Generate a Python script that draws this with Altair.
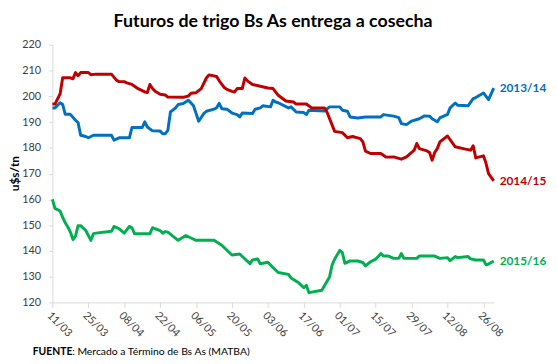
import altair as alt
import pandas as pd

# ---- data (day offsets from 11/03, value in u$s/tn) ----
START = "2015-03-11"

days_1314 = [0, 1, 3, 4, 5, 7, 9, 10, 11, 13, 14, 16, 23, 24, 26, 30, 31, 35, 36, 37, 39, 42, 43, 44, 45, 46, 48, 49, 51, 53,
             55, 57, 59, 60, 63, 64, 65, 66, 68, 70, 72, 73, 74, 78, 79, 81, 82, 85, 86, 87, 88, 92, 93, 95, 98, 99, 100, 106,
             108, 112, 113, 115, 116, 119, 122, 128, 129, 133, 135, 136, 138, 140, 143, 145, 147, 148, 150, 151, 154, 155,
             157, 158, 162, 164, 165, 168, 170, 172]
vals_1314 = [195.5, 195.5, 197.5, 196.8, 193.0, 193.0, 190.7, 189.8, 184.9, 184.4, 183.9, 184.9, 184.9, 183.0, 183.9, 183.9,
             187.9, 187.9, 190.1, 188.1, 186.6, 186.5, 185.5, 185.5, 186.8, 193.9, 195.5, 196.8, 197.2, 198.5,
             196.3, 190.3, 193.3, 194.2, 195.0, 195.6, 197.3, 195.2, 195.0, 193.5, 192.9, 192.0, 193.5, 193.3, 195.0, 195.5,
             196.3, 195.9, 198.5, 197.8, 197.5, 195.5, 195.9, 193.9, 193.7, 192.9, 194.6, 194.3,
             195.9, 195.9, 194.6, 194.2, 192.0, 191.6, 192.0, 192.0, 192.9, 192.3, 191.7, 189.4, 189.0, 190.4, 191.3, 192.4,
             192.3, 191.3, 190.1, 191.6, 193.0, 195.5,
             197.4, 196.5, 196.3, 199.1, 199.5, 201.3, 198.7, 203.2]

days_1415 = [0, 1, 3, 4, 7, 8, 9, 10, 11, 14, 15, 17, 23, 25, 26, 28, 29, 31, 33, 36, 37, 38, 39, 40, 42, 44, 45, 51, 53, 54,
             56, 58, 60, 61, 64, 65, 67, 68, 70, 71, 72, 74, 75, 76, 78, 81, 84, 86, 88, 91, 94, 95, 99, 101, 106, 107, 110,
             113, 115, 117, 120, 121, 122, 124, 128, 129, 130, 133, 135, 136, 138, 140, 141, 142, 143, 146, 147, 148, 149,
             150, 151, 154, 157, 161, 163, 164, 165, 168, 169, 170, 172]
vals_1415 = [197.0, 197.0, 201.0, 207.2, 207.2, 206.8, 209.2, 208.0, 209.2, 209.2, 208.4, 208.6, 208.6, 206.2, 205.7, 205.7,
             205.2, 204.6, 203.2, 201.7, 201.5, 204.6, 203.0, 202.0, 200.8, 200.5, 199.7, 199.6, 200.1, 201.2,
             201.4, 203.0, 207.1, 208.3, 207.7, 206.0, 203.4, 202.7, 201.9, 201.7, 203.0, 203.0, 207.1, 206.0, 204.6, 203.9,
             203.2, 203.0, 200.4, 198.2, 197.8, 197.0, 197.0, 195.5, 195.5, 193.9, 186.4,
             185.9, 183.9, 184.4, 183.6, 182.3, 178.7, 177.8, 177.8, 177.1, 176.4, 176.5, 175.9, 175.6, 176.5, 178.2, 179.1,
             181.7, 179.7, 178.8, 178.2, 175.2, 178.2,
             179.7, 182.3, 184.6, 180.4, 179.5, 179.1, 180.8, 176.1, 176.9, 174.0, 170.0, 167.2]

days_1516 = [0, 1, 3, 4, 5, 6, 7, 8, 9, 10, 11, 13, 14, 15, 16, 17, 23, 24, 26, 28, 30, 31, 32, 38, 39, 40, 42, 43, 44, 45,
             49, 52, 54, 56, 63, 66, 70, 73, 77, 78, 80, 81, 84, 86, 88, 92, 93, 96, 98, 99, 100, 105, 108, 109, 110, 112,
             113, 114, 116, 119, 121, 122, 124, 126, 127, 128, 129, 131, 133, 135, 136, 137, 142, 143, 149, 151, 154, 155,
             157, 158, 162, 163, 165, 168, 169, 170, 172]
vals_1516 = [160.0, 156.5, 155.5, 153.0, 150.9, 149.3, 147.3, 144.4, 145.7, 149.8, 149.8, 147.9, 146.0, 144.1, 146.7, 146.9,
             147.6, 149.5, 148.6, 146.9, 149.5, 149.0, 146.7, 146.7, 149.0, 148.6, 147.9, 146.9, 147.5, 147.3,
             144.1, 146.0, 145.0, 144.1, 144.1, 142.2, 138.4, 138.8, 135.0, 136.5, 136.9, 135.0, 135.6, 133.5, 131.6, 130.9,
             129.5, 127.6, 125.7, 126.6, 123.8, 124.7, 129.9, 134.5, 136.8, 140.2,
             139.3, 135.2, 136.1, 136.1, 135.5, 134.2, 135.8, 136.8, 137.8, 139.0, 138.0, 138.0, 137.1, 137.1, 139.0, 137.1,
             137.1, 138.0, 138.0, 137.1, 137.4, 136.2,
             137.8, 137.4, 137.8, 136.9, 136.5, 136.5, 134.6, 134.9, 136.1]

series_names = ["2013/14", "2014/15", "2015/16"]
series_colors = ["#0070C0", "#C00000", "#00B050"]
tick_days = [0, 14, 28, 42, 56, 70, 84, 98, 112, 126, 140, 154, 168]
domain_days = [0, 172]
y_ticks = [120, 130, 140, 150, 160, 170, 180, 190, 200, 210, 220]

FONT = "Lato"


def to_date(d):
    return pd.Timestamp(START) + pd.Timedelta(days=d)


def iso(d):
    return to_date(d).strftime("%Y-%m-%dT%H:%M:%S")


def dt(d):
    t = to_date(d)
    return alt.DateTime(year=t.year, month=t.month, date=t.day)


rows = []
for name, ds, vs in zip(series_names, [days_1314, days_1415, days_1516], [vals_1314, vals_1415, vals_1516]):
    for d, v in zip(ds, vs):
        rows.append({"fecha": iso(d), "valor": v, "serie": name})
df = pd.DataFrame(rows)

last = df.groupby("serie", as_index=False).last()

color = alt.Color("serie:N", scale=alt.Scale(domain=series_names, range=series_colors), legend=None)

x_enc = alt.X(
    "fecha:T",
    scale=alt.Scale(domain=[dt(domain_days[0]), dt(domain_days[1])], nice=False),
    axis=alt.Axis(
        values=[dt(d) for d in tick_days],
        tickCount=len(tick_days) + 5,
        format="%d/%m",
        labelAngle=45,
        labelAlign="left",
        labelBaseline="top",
        labelPadding=2,
        tickSize=5,
        grid=False,
        title=None,
        domainColor="#D9D9D9",
        tickColor="#D9D9D9",
        labelColor="#404040",
        labelFontSize=11,
        labelFont=FONT,
        labelOverlap=False,
        labelBound=False,
        labelFlush=False,
    ),
)
y_enc = alt.Y(
    "valor:Q",
    scale=alt.Scale(domain=[120, 220], nice=False, zero=False),
    axis=alt.Axis(
        values=y_ticks,
        tickCount=len(y_ticks) + 5,
        grid=False,
        tickSize=4,
        labelPadding=8,
        domainColor="#D9D9D9",
        tickColor="#D9D9D9",
        labelColor="#404040",
        labelFontSize=11,
        labelFont=FONT,
        labelOverlap=False,
        labelBound=False,
        labelFlush=False,
        title="u$s/tn",
        titleFont=FONT,
        titleFontSize=12,
        titleFontWeight="bold",
        titleColor="#000000",
        titleX=-31,
        titleY=130,
    ),
)

lines = alt.Chart(df).mark_line(strokeWidth=3, strokeJoin="round").encode(x=x_enc, y=y_enc, color=color)

labels = alt.Chart(last).mark_text(align="left", baseline="middle", dx=6, fontWeight="bold", fontSize=12, font=FONT).encode(
    x="fecha:T", y="valor:Q", color=color, text="serie:N"
)

foot_df = pd.DataFrame({"a": [0]})
foot1 = alt.Chart(foot_df).mark_text(align="left", baseline="middle", fontWeight="bold", fontSize=10.5, font=FONT, color="#000").encode(
    x=alt.value(-20), y=alt.value(311), text=alt.value("FUENTE")
)
foot2 = alt.Chart(foot_df).mark_text(align="left", baseline="middle", fontSize=10.5, font=FONT, color="#000").encode(
    x=alt.value(20), y=alt.value(311), text=alt.value(": Mercado a Término de Bs As (MATBA)")
)
underline = alt.Chart(foot_df).mark_rule(color="#000", strokeWidth=1).encode(
    x=alt.value(-20), x2=alt.value(18), y=alt.value(317)
)

chart = (
    alt.layer(lines, labels, foot1, foot2, underline)
    .properties(
        width=447,
        height=261,
        autosize=alt.AutoSizeParams(type="none"),
        padding={"left": 45, "top": 35, "right": 56, "bottom": 52},
        title=alt.TitleParams(
            "Futuros de trigo Bs As entrega a cosecha",
            font=FONT,
            fontSize=18,
            fontWeight="bold",
            color="#000000",
            anchor="middle",
            offset=8,
        ),
        background="white",
    )
    .configure_view(stroke=None)
)

chart.save("out.html", embed_options={"renderer": "svg", "actions": False})
